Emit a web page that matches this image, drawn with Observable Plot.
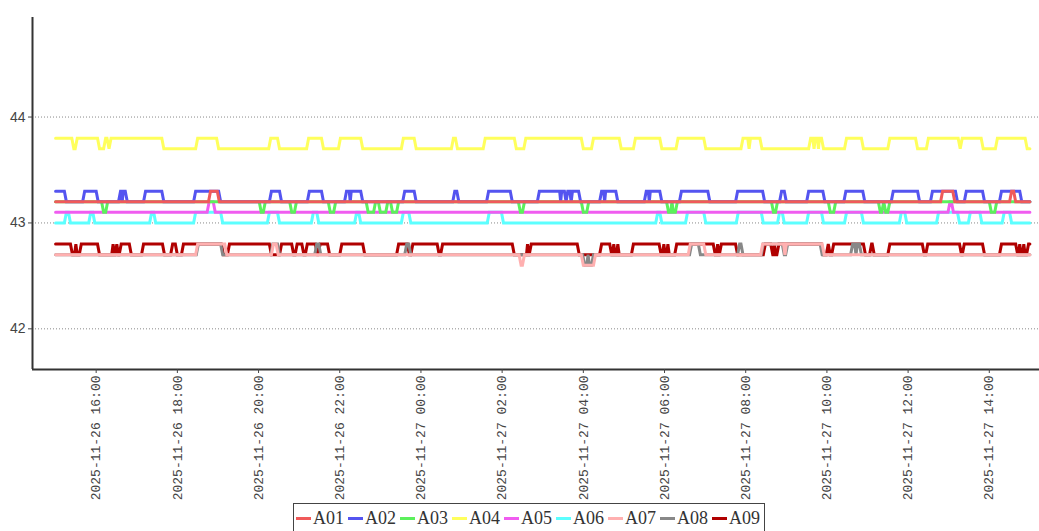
<!DOCTYPE html>
<html><head><meta charset="utf-8">
<script src="https://cdn.jsdelivr.net/npm/d3@7"></script>
<script src="https://cdn.jsdelivr.net/npm/@observablehq/plot@0.6"></script>
<style>
body{margin:0;background:#fff;}
#chart svg{display:block;}
#legend{display:inline-flex;align-items:center;margin:3px 0 0 293px;border:1px solid #444;padding:0 4px 0 2px;height:30px;font-family:"Liberation Serif",serif;font-size:18px;color:#333;box-sizing:border-box;}
.item{display:flex;align-items:center;margin-right:4px}
.item:last-child{margin-right:0}
.sw{width:15px;height:3px;margin-right:2px}
</style></head><body>
<div id="chart"></div><div id="legend"></div>
<script>
// ---- data (minutes after 2025-11-26 15:00) ----
const names  = ["A01","A02","A03","A04","A05","A06","A07","A08","A09"];
const colors = ["#f05a5a","#5454f0","#5cf05c","#ffff5c","#f05cf0","#5cffff","#ffb0b0","#888888","#b00000"];
const baseValues = [43.2, 43.2, 43.2, 43.7, 43.1, 43.0, 42.7, 42.7, 42.8];
const altValues  = [43.3, 43.3, 43.1, 43.8, 43.2, 43.1, 42.8, 42.8, 42.7];
const xTickHours = 2;
const yTicks = [42, 43, 44];

const spansA01 = [[229,239],[1311,1326],[1413,1416]];
const spansA02 = [[0,13],[43,60],[96,97],[100,103],[133,157],[207,241],[319,331],[375,393],[430,434],[437,451],[516,530],[590,593],[640,672],[715,745],[748,752],[757,760],[764,773],[807,810],[813,828],[873,876],[879,893],[925,964],[1008,1045],[1073,1077],[1113,1134],[1168,1193],[1238,1274],[1296,1330],[1346,1370],[1398,1425]];
const spansA03 = [[71,74],[304,307],[349,353],[406,411],[462,470],[480,488],[498,504],[687,690],[780,785],[906,909],[913,916],[1061,1064],[1145,1150],[1219,1221],[1227,1230],[1383,1388]];
const spansA04 = [[0,24],[32,62],[74,76],[82,157],[210,238],[318,328],[374,393],[421,451],[514,530],[588,591],[635,678],[695,777],[795,833],[857,893],[920,958],[1016,1023],[1027,1041],[1116,1119],[1123,1126],[1129,1132],[1169,1191],[1233,1271],[1290,1334],[1340,1368],[1392,1433]];
const spansA05 = [[227,233],[1322,1324]];
const spansA06 = [[16,19],[52,55],[142,145],[207,244],[316,328],[381,386],[445,448],[514,522],[641,659],[890,893],[934,958],[1009,1043],[1070,1074],[1113,1132],[1169,1191],[1250,1255],[1305,1333],[1352,1366],[1402,1410]];
const spansA07 = [[210,250,42.8],[322,326,42.8],[688,690,42.6],[780,795,42.6],[938,958,42.8],[1045,1076,42.8],[1080,1133,42.8]];
const spansA08 = [[211,244,42.8],[321,328,42.8],[386,389,42.8],[519,522,42.8],[782,785,42.6],[789,792,42.6],[940,950,42.8],[1011,1013,42.8],[1046,1074,42.8],[1082,1130,42.8],[1178,1181,42.8],[1185,1188,42.8]];
const spansA09 = [[25,28],[32,35],[65,83],[87,88],[93,94],[112,127],[161,170],[180,186],[248,254],[319,331],[352,354],[367,369],[387,388],[405,420],[457,504],[523,525],[567,569],[678,696],[699,700],[774,804],[822,823],[827,829],[833,851],[895,897],[901,903],[907,915],[975,977],[980,981],[1008,1046],[1060,1061],[1064,1066],[1135,1139],[1145,1147],[1197,1203],[1210,1230],[1284,1286],[1339,1340],[1373,1395],[1422,1423],[1427,1429],[1433,1435]];
const allSpans = [spansA01,spansA02,spansA03,spansA04,spansA05,spansA06,spansA07,spansA08,spansA09];

const startTime = Date.UTC(2025, 10, 26, 15, 0);
const totalMinutes = 1440;
const toDate = m => new Date(startTime + m * 60000);

// build vertex table (each level change ramps over one short sample step)
const R = 3;
function build(name, base, alt, spans) {
  const pts = [];
  if (!(spans.length && spans[0][0] <= 0)) pts.push([0, base]);
  let prevEnd = -Infinity;
  spans.forEach((s, i) => {
    const [a, b] = s; const v = s.length > 2 ? s[2] : alt;
    const rin = Math.min(R, (a - prevEnd) / 2);
    if (a > 0) pts.push([a - rin, base]);
    pts.push([a, v], [b, v]);
    const next = spans[i + 1];
    const rout = next ? Math.min(R, (next[0] - b) / 2) : R;
    pts.push([Math.min(b + rout, totalMinutes), base]);
    prevEnd = b;
  });
  if (pts[pts.length - 1][0] < totalMinutes) pts.push([totalMinutes, base]);
  return pts.map(([m, v]) => ({series: name, time: toDate(m), value: v}));
}
const tables = names.map((n, i) => build(n, baseValues[i], altValues[i], allSpans[i]));

const xDomain = [toDate(-34.1), toDate(1454.2)];
const yDomain = [41.616, 44.94];

const lineMarks = [];
for (let i = names.length - 1; i >= 0; i--) {
  lineMarks.push(Plot.line(tables[i], {x: "time", y: "value", stroke: colors[i], strokeWidth: 3, strokeLinejoin: "miter", strokeMiterlimit: 4, curve: "linear"}));
}

const chart = Plot.plot({
  width: 1039, height: 500,
  marginLeft: 32, marginRight: 0, marginTop: 17, marginBottom: 131,
  style: {fontFamily: "Liberation Sans, sans-serif", background: "#fff", overflow: "visible"},
  x: {type: "utc", domain: xDomain},
  y: {domain: yDomain},
  marks: [
    Plot.gridY(yTicks, {stroke: "#888", strokeOpacity: 1, strokeDasharray: "1,2", strokeWidth: 1}),
    ...lineMarks,
    Plot.ruleX([xDomain[0]], {stroke: "#333", strokeWidth: 2}),
    Plot.ruleY([yDomain[0]], {stroke: "#333", strokeWidth: 2}),
    Plot.axisY(yTicks, {tickSize: 4, tickPadding: 3, fontSize: 14, fill: "#444", stroke: "#444", label: null, tickFormat: d => String(d)}),
    Plot.axisX({ticks: d3.utcHour.every(xTickHours), tickFormat: d3.utcFormat("%Y-%m-%d %H:%M"), tickRotate: -90, tickSize: 4, tickPadding: 2, fontSize: 13, fontFamily: "Liberation Mono, monospace", fill: "#444", stroke: "#444", label: null})
  ]
});
document.getElementById("chart").append(chart);

const legend = document.getElementById("legend");
names.forEach((n, i) => {
  const it = document.createElement("div"); it.className = "item";
  const sw = document.createElement("span"); sw.className = "sw"; sw.style.background = colors[i];
  const tx = document.createElement("span"); tx.textContent = n;
  it.append(sw, tx); legend.append(it);
});
</script>
</body></html>
